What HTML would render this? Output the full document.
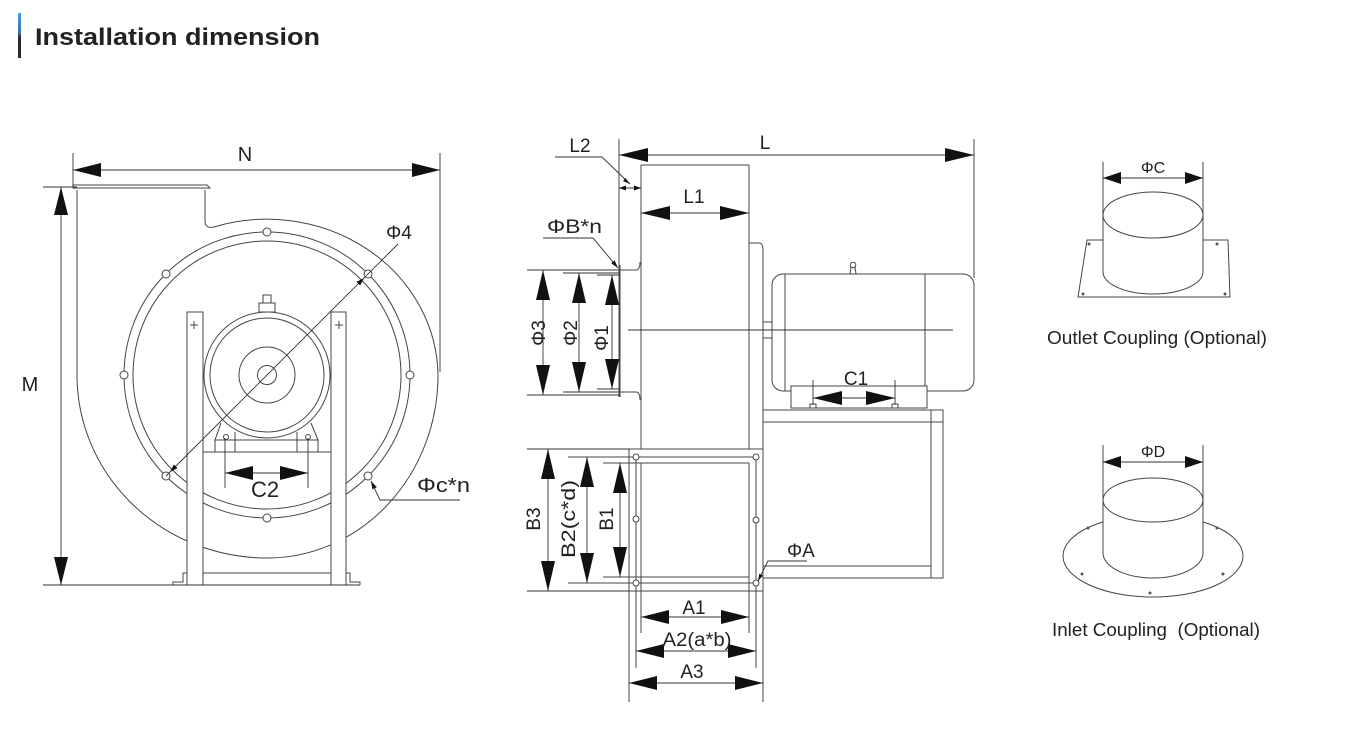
<!DOCTYPE html>
<html><head><meta charset="utf-8"><style>
html,body{margin:0;padding:0;background:#fff;}
svg{display:block;}
text{font-family:"Liberation Sans",Arial,sans-serif;fill:#222;}
</style></head><body>
<svg width="1350" height="741" viewBox="0 0 1350 741" xmlns="http://www.w3.org/2000/svg">
<defs>
<linearGradient id="bar" x1="0" y1="0" x2="0" y2="1">
<stop offset="0" stop-color="#4a9ee8"/><stop offset="0.45" stop-color="#3a6fa8"/><stop offset="0.55" stop-color="#2a2a2a"/><stop offset="1" stop-color="#2a2a2a"/>
</linearGradient>
</defs>
<rect x="0" y="0" width="1350" height="741" fill="#fff"/>
<!-- Title -->
<rect x="18" y="13" width="3" height="45" fill="url(#bar)"/>
<text x="35" y="45" font-size="24" font-weight="bold" textLength="285" lengthAdjust="spacingAndGlyphs">Installation dimension</text>

<!-- ================= LEFT VIEW ================= -->
<g fill="none" stroke="#444" stroke-width="1">
  <!-- scroll casing -->
  <path d="M205,190 L205,221 Q205,229 214,227 A171 158 0 0 1 438,375 A171 183 0 0 1 267,558 A190 183 0 0 1 77,375 L77,190"/>
  <!-- outlet flange -->
  <path d="M73,185 L207,185 L210,188 L73,188 Z"/>
  <!-- flange ring -->
  <circle cx="267" cy="375" r="143"/>
  <circle cx="267" cy="375" r="134"/>
</g>
<g fill="#fff" stroke="#444" stroke-width="1">
  <circle cx="267" cy="232" r="4"/><circle cx="267" cy="518" r="4"/>
  <circle cx="124" cy="375" r="4"/><circle cx="410" cy="375" r="4"/>
  <circle cx="166" cy="274" r="4"/><circle cx="368" cy="274" r="4"/>
  <circle cx="166" cy="476" r="4"/><circle cx="368" cy="476" r="4"/>
  <!-- stand posts -->
  <rect x="187" y="312" width="16" height="273"/>
  <rect x="331" y="312" width="15" height="273"/>
  <!-- motor -->
  <rect x="263" y="295" width="8" height="8"/>
  <rect x="259" y="303" width="16" height="9"/>
  <path d="M221,423 L215,440 L318,440 L311,423"/>
  <circle cx="267" cy="375" r="63"/>
  <circle cx="267" cy="375" r="57"/>
  <circle cx="267" cy="375" r="28"/>
  <circle cx="267" cy="375" r="9.5"/>
  <rect x="215" y="440" width="103" height="12"/>
</g>
<g fill="none" stroke="#444" stroke-width="1">
  <line x1="235" y1="432" x2="235" y2="452"/><line x1="297" y1="432" x2="297" y2="452"/>
  <circle cx="226" cy="437" r="2.5"/><circle cx="308" cy="437" r="2.5"/>
  <line x1="203" y1="452" x2="331" y2="452"/>
  <line x1="203" y1="573" x2="331" y2="573"/>
  <path d="M173,585 L173,582 L183,582 L183,573 L187,573"/>
  <path d="M346,573 L350,573 L350,582 L360,582 L360,585"/>
  <path d="M190,325 h8 M194,321 v8 M335,325 h8 M339,321 v8"/>
</g>
<!-- left dims -->
<g stroke="#333" stroke-width="0.9" fill="none">
  <line x1="73" y1="170" x2="440" y2="170"/>
  <line x1="73" y1="153" x2="73" y2="186"/>
  <line x1="440" y1="153" x2="440" y2="372"/>
  <line x1="61" y1="187" x2="61" y2="585"/>
  <line x1="43" y1="187" x2="77" y2="187"/>
  <line x1="43" y1="585" x2="360" y2="585"/>
  <line x1="166" y1="476" x2="398" y2="244"/>
  <line x1="225" y1="438" x2="225" y2="488"/>
  <line x1="308" y1="438" x2="308" y2="488"/>
  <line x1="225" y1="473" x2="308" y2="473"/>
  <polyline points="371,481 380,500 460,500"/>
</g>
<g fill="#111">
  <polygon points="73,170 101,163 101,177"/>
  <polygon points="440,170 412,163 412,177"/>
  <polygon points="61,187 54,215 68,215"/>
  <polygon points="61,585 54,557 68,557"/>
  <polygon points="225,473 253,466 253,480"/>
  <polygon points="308,473 280,466 280,480"/>
  <polygon points="364,278 360.1,285.5 356.5,281.9"/>
  <polygon points="170,472 177.5,468.1 173.9,464.5"/>
  <polygon points="371,481 376.8,487.1 372.4,489.3"/>
</g>
<text x="245" y="161" font-size="20" text-anchor="middle">N</text>
<text x="30" y="391" font-size="20" text-anchor="middle">M</text>
<text x="399" y="239" font-size="19" text-anchor="middle">Φ4</text>
<text x="265" y="497" font-size="22" text-anchor="middle">C2</text>
<text x="417" y="492" font-size="20" textLength="53" lengthAdjust="spacingAndGlyphs">Φc*n</text>

<!-- ================= MIDDLE VIEW ================= -->
<g fill="none" stroke="#444" stroke-width="1">
  <!-- casing -->
  <line x1="641" y1="165" x2="749" y2="165"/>
  <line x1="641" y1="165" x2="641" y2="449"/>
  <line x1="749" y1="165" x2="749" y2="449"/>
  <!-- inlet -->
  <line x1="620" y1="265" x2="620" y2="397"/>
  <path d="M619,270 L636,270 Q640,270 640,262"/>
  <path d="M619,392 L636,392 Q640,392 640,400"/>
  <!-- step & shaft -->
  <path d="M749,243 L759,243 Q763,243 763,250 L763,322"/>
  <line x1="763" y1="338" x2="763" y2="410"/>
  <rect x="763" y="322" width="9" height="16"/>
  <!-- motor -->
  <rect x="772" y="274" width="202" height="117" rx="11" ry="11"/>
  <line x1="785" y1="274" x2="785" y2="391"/>
  <line x1="925" y1="274" x2="925" y2="391"/>
  <circle cx="853" cy="265" r="2.8"/>
  <path d="M850,274 L851,267 M856,274 L855,267"/>
</g>
<rect x="791" y="386" width="136" height="22" fill="#fff" stroke="#444" stroke-width="1"/>
<g fill="none" stroke="#444" stroke-width="1">
  <rect x="810" y="404" width="6" height="4"/><rect x="892" y="404" width="6" height="4"/>
  <!-- frame -->
  <rect x="763" y="410" width="180" height="168"/>
  <line x1="763" y1="422" x2="943" y2="422"/>
  <line x1="931" y1="410" x2="931" y2="578"/>
  <line x1="763" y1="566" x2="931" y2="566"/>
  <!-- outlet flange -->
  <rect x="629" y="449" width="134" height="142" fill="#fff"/>
  <line x1="568" y1="457" x2="756" y2="457"/>
  <line x1="568" y1="583" x2="756" y2="583"/>
  <line x1="636" y1="457" x2="636" y2="668"/>
  <line x1="756" y1="457" x2="756" y2="668"/>
  <line x1="603" y1="463" x2="749" y2="463"/>
  <line x1="603" y1="577" x2="749" y2="577"/>
  <line x1="641" y1="463" x2="641" y2="633"/>
  <line x1="749" y1="463" x2="749" y2="633"/>
  <line x1="629" y1="591" x2="629" y2="702"/>
  <line x1="763" y1="591" x2="763" y2="702"/>
</g>
<g fill="#fff" stroke="#444" stroke-width="1">
  <circle cx="636" cy="457" r="3"/><circle cx="756" cy="457" r="3"/>
  <circle cx="636" cy="519" r="3"/><circle cx="756" cy="520" r="3"/>
  <circle cx="636" cy="583" r="3"/><circle cx="756" cy="583" r="3"/>
</g>
<!-- middle dims -->
<g stroke="#333" stroke-width="0.9" fill="none">
  <line x1="619" y1="155" x2="974" y2="155"/>
  <line x1="619" y1="139" x2="619" y2="397"/>
  <line x1="974" y1="139" x2="974" y2="278"/>
  <line x1="641" y1="213" x2="749" y2="213"/>
  <polyline points="555,157 602,157 630,184"/>
  <line x1="619" y1="188" x2="641" y2="188"/>
  <polyline points="543,238 593,238 618,268"/>
  <line x1="628" y1="330" x2="953" y2="330"/>
  <line x1="543" y1="270" x2="543" y2="395"/>
  <line x1="527" y1="270" x2="620" y2="270"/>
  <line x1="527" y1="395" x2="620" y2="395"/>
  <line x1="579" y1="273" x2="579" y2="392"/>
  <line x1="563" y1="273" x2="620" y2="273"/>
  <line x1="563" y1="392" x2="620" y2="392"/>
  <line x1="612" y1="275" x2="612" y2="389"/>
  <line x1="597" y1="275" x2="620" y2="275"/>
  <line x1="597" y1="389" x2="620" y2="389"/>
  <line x1="813" y1="380" x2="813" y2="405"/>
  <line x1="895" y1="380" x2="895" y2="405"/>
  <line x1="813" y1="398" x2="895" y2="398"/>
  <line x1="548" y1="449" x2="548" y2="591"/>
  <line x1="527" y1="449" x2="629" y2="449"/>
  <line x1="527" y1="591" x2="629" y2="591"/>
  <line x1="587" y1="457" x2="587" y2="583"/>
  <line x1="620" y1="463" x2="620" y2="577"/>
  <line x1="641" y1="617" x2="749" y2="617"/>
  <line x1="636" y1="651" x2="756" y2="651"/>
  <line x1="629" y1="683" x2="763" y2="683"/>
  <polyline points="807,561 768,561 758,581"/>
</g>
<g fill="#111">
  <polygon points="619,155 648,148 648,162"/>
  <polygon points="974,155 945,148 945,162"/>
  <polygon points="641,213 670,206 670,220"/>
  <polygon points="749,213 720,206 720,220"/>
  <polygon points="619,188 626,185.5 626,190.5"/>
  <polygon points="641,188 634,185.5 634,190.5"/>
  <polygon points="630,184 623,181 625.5,178"/>
  <polygon points="618,268 614.6,260.4 611.2,263.2"/>
  <polygon points="543,270 536,300 550,300"/>
  <polygon points="543,395 536,365 550,365"/>
  <polygon points="579,273 572,303 586,303"/>
  <polygon points="579,392 572,362 586,362"/>
  <polygon points="612,275 605,305 619,305"/>
  <polygon points="612,389 605,359 619,359"/>
  <polygon points="813,398 842,391 842,405"/>
  <polygon points="895,398 866,391 866,405"/>
  <polygon points="548,449 541,479 555,479"/>
  <polygon points="548,591 541,561 555,561"/>
  <polygon points="587,457 580,487 594,487"/>
  <polygon points="587,583 580,553 594,553"/>
  <polygon points="620,463 613,493 627,493"/>
  <polygon points="620,577 613,547 627,547"/>
  <polygon points="641,617 669,610 669,624"/>
  <polygon points="749,617 721,610 721,624"/>
  <polygon points="636,651 664,644 664,658"/>
  <polygon points="756,651 728,644 728,658"/>
  <polygon points="629,683 657,676 657,690"/>
  <polygon points="763,683 735,676 735,690"/>
  <polygon points="758,581 762.9,575.6 759.3,573.8"/>
</g>
<text x="765" y="149" font-size="19" text-anchor="middle">L</text>
<text x="580" y="152" font-size="19" text-anchor="middle">L2</text>
<text x="694" y="203" font-size="19" text-anchor="middle">L1</text>
<text x="547" y="233" font-size="19" textLength="55" lengthAdjust="spacingAndGlyphs">ΦB*n</text>
<text x="856" y="385" font-size="19" text-anchor="middle">C1</text>
<text x="787" y="557" font-size="19">ΦA</text>
<text transform="translate(538,333) rotate(-90)" x="0" y="7" font-size="19" text-anchor="middle">Φ3</text>
<text transform="translate(570,333) rotate(-90)" x="0" y="7" font-size="19" text-anchor="middle">Φ2</text>
<text transform="translate(601,338) rotate(-90)" x="0" y="7" font-size="19" text-anchor="middle">Φ1</text>
<text transform="translate(533,519) rotate(-90)" x="0" y="7" font-size="19" text-anchor="middle">B3</text>
<text transform="translate(568,519) rotate(-90)" x="0" y="7" font-size="19" text-anchor="middle" textLength="78" lengthAdjust="spacingAndGlyphs">B2(c*d)</text>
<text transform="translate(606,519) rotate(-90)" x="0" y="7" font-size="19" text-anchor="middle">B1</text>
<text x="694" y="614" font-size="19" text-anchor="middle">A1</text>
<text x="697" y="646" font-size="19" text-anchor="middle" textLength="69" lengthAdjust="spacingAndGlyphs">A2(a*b)</text>
<text x="692" y="678" font-size="19" text-anchor="middle">A3</text>

<!-- ================= COUPLINGS ================= -->
<g fill="none" stroke="#444" stroke-width="1">
  <!-- outlet -->
  <polygon points="1087,240 1228,240 1230,297 1078,297" fill="#fff"/>
  <path d="M1103,215 L1103,272 A50 22 0 0 0 1203,272 L1203,215 Z" fill="#fff"/>
  <ellipse cx="1153" cy="215" rx="50" ry="23" fill="#fff"/>
  <!-- inlet -->
  <ellipse cx="1153" cy="556" rx="90" ry="41" fill="#fff"/>
  <path d="M1103,500 L1103,553 A50 25 0 0 0 1203,553 L1203,500 Z" fill="#fff"/>
  <ellipse cx="1153" cy="500" rx="50" ry="22" fill="#fff"/>
</g>
<g fill="#555">
  <circle cx="1089" cy="244" r="1.5"/><circle cx="1217" cy="244" r="1.5"/>
  <circle cx="1083" cy="294" r="1.5"/><circle cx="1225" cy="294" r="1.5"/>
  <circle cx="1088" cy="528" r="1.5"/><circle cx="1217" cy="528" r="1.5"/>
  <circle cx="1082" cy="574" r="1.5"/><circle cx="1223" cy="574" r="1.5"/>
  <circle cx="1150" cy="593" r="1.5"/>
</g>
<g stroke="#333" stroke-width="0.9" fill="none">
  <line x1="1103" y1="162" x2="1103" y2="215"/>
  <line x1="1203" y1="162" x2="1203" y2="215"/>
  <line x1="1103" y1="178" x2="1203" y2="178"/>
  <line x1="1103" y1="445" x2="1103" y2="500"/>
  <line x1="1203" y1="445" x2="1203" y2="500"/>
  <line x1="1103" y1="462" x2="1203" y2="462"/>
</g>
<g fill="#111">
  <polygon points="1103,178 1121,172 1121,184"/>
  <polygon points="1203,178 1185,172 1185,184"/>
  <polygon points="1103,462 1121,456 1121,468"/>
  <polygon points="1203,462 1185,456 1185,468"/>
</g>
<text x="1153" y="173" font-size="16" text-anchor="middle">ΦC</text>
<text x="1153" y="457" font-size="16" text-anchor="middle">ΦD</text>
<text x="1047" y="344" font-size="18" fill="#333" textLength="220" lengthAdjust="spacingAndGlyphs">Outlet Coupling (Optional)</text>
<text x="1052" y="636" font-size="18" fill="#333" textLength="208" lengthAdjust="spacingAndGlyphs" xml:space="preserve">Inlet Coupling  (Optional)</text>
</svg>
</body></html>
